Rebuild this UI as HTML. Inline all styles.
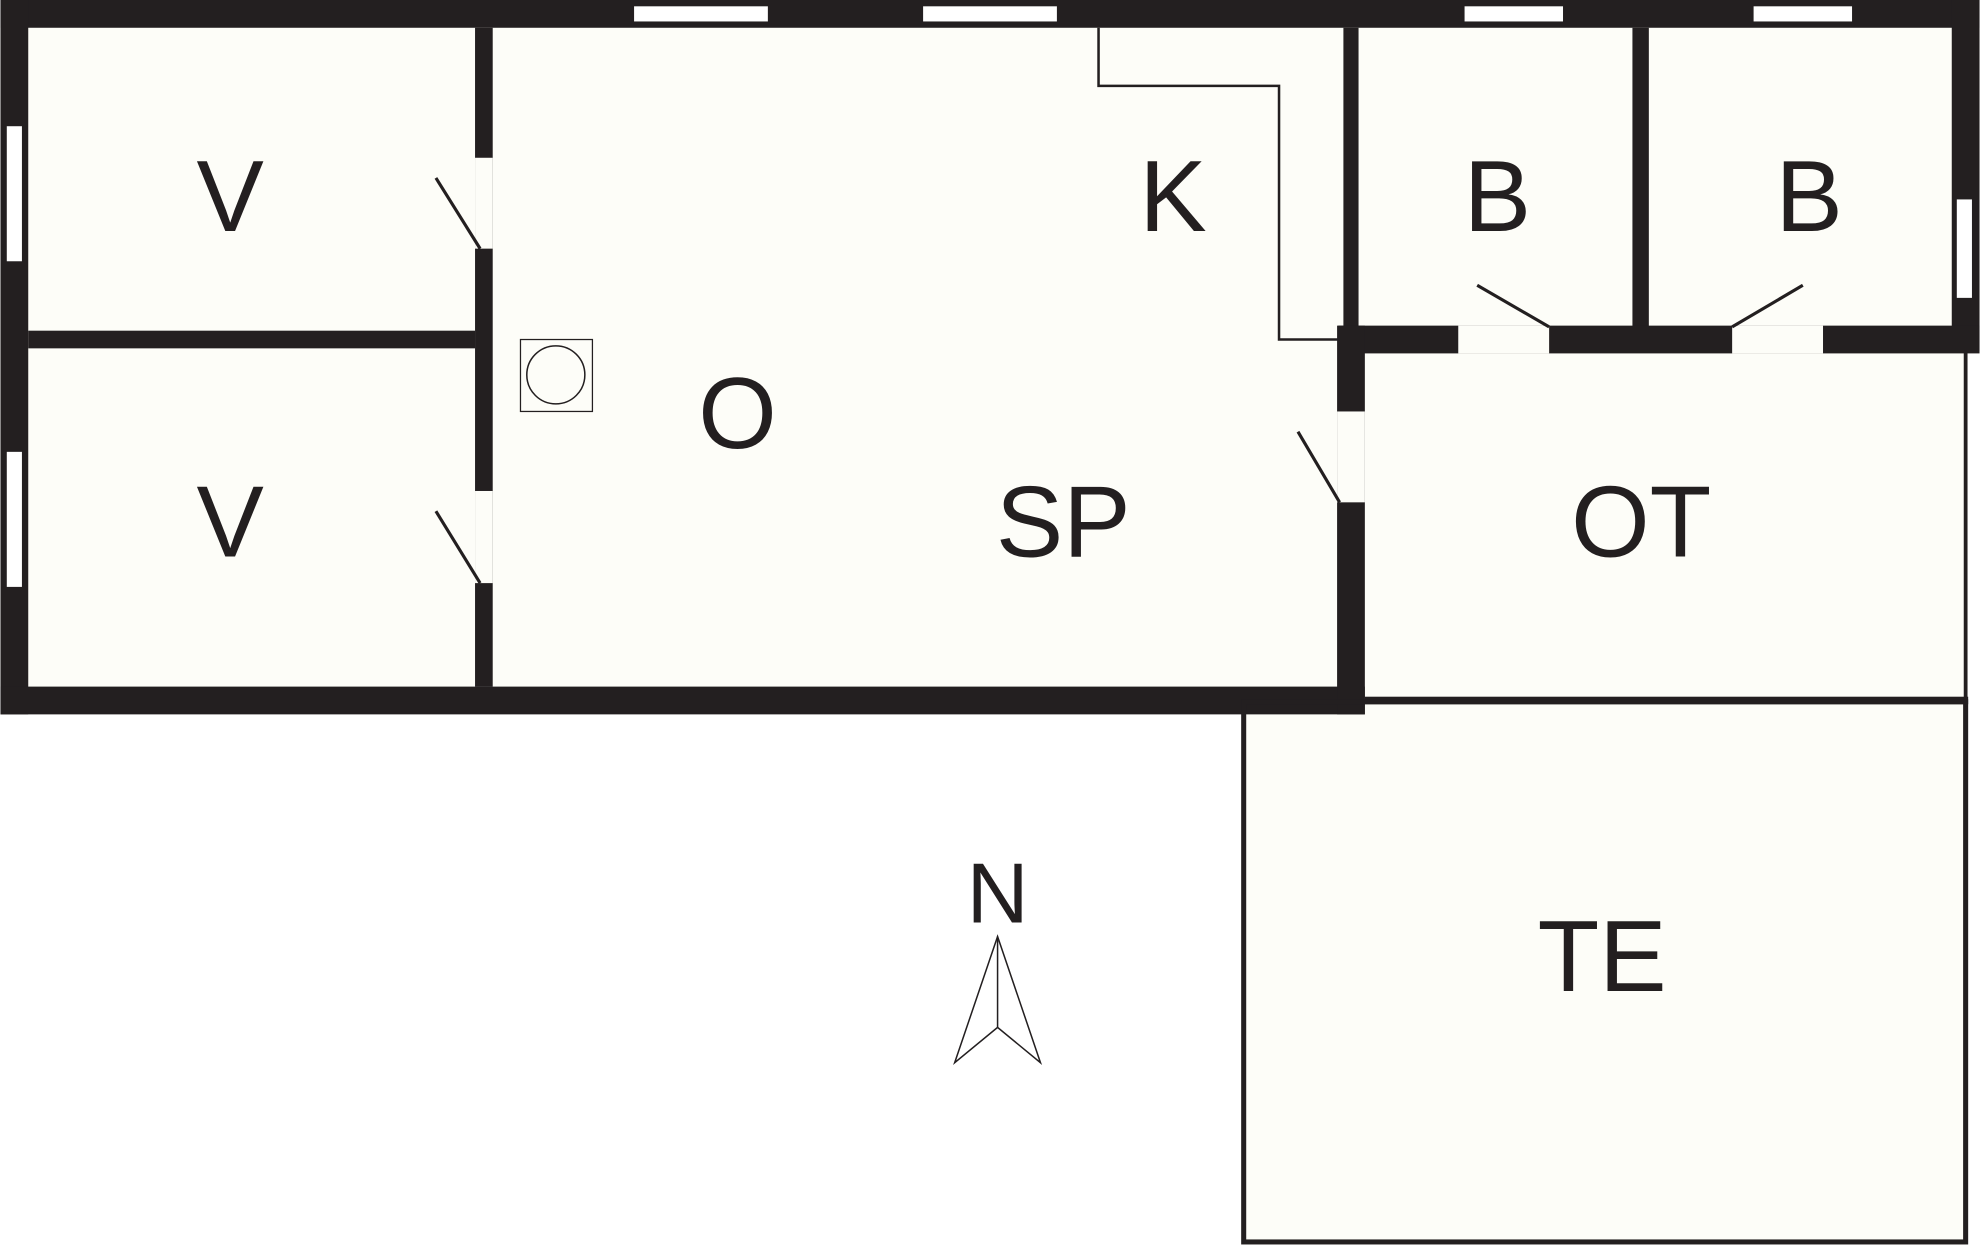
<!DOCTYPE html>
<html><head><meta charset="utf-8"><style>
html,body{margin:0;padding:0;background:#ffffff;}
svg{display:block;}
text{font-family:"Liberation Sans",sans-serif;fill:#231f20;}
</style></head><body>
<svg width="1980" height="1247" viewBox="0 0 1568 988" xmlns="http://www.w3.org/2000/svg">
<rect x="0" y="0" width="1568" height="988" fill="#ffffff"/>
<g fill="#fdfdf8">
<rect x="0" y="0" width="1081" height="566"/>
<rect x="1060" y="0" width="508" height="280"/>
<rect x="1081" y="280" width="476" height="280"/>
<rect x="983" y="556" width="574" height="429"/>
</g>
<g fill="#231f20">
<rect x="0" y="0" width="1568" height="22"/>
<rect x="0" y="0" width="22" height="566"/>
<rect x="0" y="544" width="1081" height="22"/>
<rect x="1546" y="0" width="22" height="278"/>
<rect x="376" y="22" width="14" height="522"/>
<rect x="22" y="262" width="354" height="14"/>
<rect x="1064" y="22" width="12" height="246"/>
<rect x="1293" y="22" width="13" height="246"/>
<rect x="1060" y="258" width="508" height="22"/>
<rect x="1059" y="258" width="22" height="308"/>
<rect x="1081" y="552" width="478" height="6"/>
</g>
<g fill="#fdfdf8">
<rect x="376" y="125" width="14" height="72"/>
<rect x="376" y="389" width="14" height="73"/>
<rect x="1155" y="258" width="72" height="22"/>
<rect x="1372" y="258" width="72" height="22"/>
<rect x="1059" y="326" width="22" height="72"/>
</g>
<g fill="#ffffff">
<rect x="502" y="5" width="106" height="12"/>
<rect x="731" y="5" width="106" height="12"/>
<rect x="1160" y="5" width="78" height="12"/>
<rect x="1389" y="5" width="78" height="12"/>
<rect x="5" y="100" width="12" height="107"/>
<rect x="5" y="358" width="12" height="107"/>
<rect x="1550" y="158" width="12" height="78"/>
</g>
<g fill="none" stroke="#231f20">
<rect x="985" y="556" width="572" height="428" stroke-width="4"/>
<line x1="1557" y1="278" x2="1557" y2="560" stroke-width="3"/>
<polyline points="870,22 870,68 1013,68 1013,269 1060,269" stroke-width="2"/>
<rect x="412" y="269" width="57" height="57" stroke-width="1"/>
<circle cx="440" cy="297" r="23" stroke-width="1.2"/>
<g stroke-width="2.5">
<line x1="345" y1="141" x2="380" y2="197"/>
<line x1="345" y1="405" x2="380" y2="462"/>
<line x1="1170" y1="226" x2="1227" y2="259"/>
<line x1="1428" y1="226" x2="1372" y2="259"/>
<line x1="1028" y1="342" x2="1061" y2="398"/>
</g>
<polygon points="790,742 756,842 790,814 824,842" stroke-width="1.2"/>
<line x1="790" y1="742" x2="790" y2="814" stroke-width="1.2"/>
</g>
<g font-size="80" text-anchor="middle">
<text x="182" y="183">V</text>
<text x="182" y="441">V</text>
<text x="929" y="183">K</text>
<text x="1186" y="183">B</text>
<text x="1433" y="183">B</text>
<text x="584" y="355">O</text>
<text x="842" y="441">SP</text>
<text x="1300" y="441">OT</text>
<text x="1269" y="785">TE</text>
<text x="790" y="731" font-size="68">N</text>
</g>
</svg>
</body></html>
